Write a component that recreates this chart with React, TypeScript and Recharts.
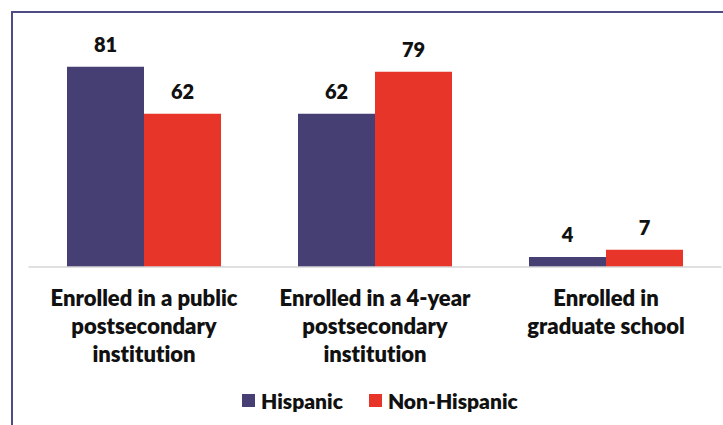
import { BarChart, Bar, XAxis, YAxis, LabelList, Legend } from 'recharts'

// Categories and values (percent)
const categories = [
  'Enrolled in a public\npostsecondary\ninstitution',
  'Enrolled in a 4-year\npostsecondary\ninstitution',
  'Enrolled in\ngraduate school',
]
const hispanic = [81, 62, 4]
const nonHispanic = [62, 79, 7]
const seriesNames = ['Hispanic', 'Non-Hispanic']
const seriesColors = ['#453F74', '#E8352A']

const data = categories.map((c, i) => ({
  category: c,
  hispanic: hispanic[i],
  nonHispanic: nonHispanic[i],
}))

const FONT = 'Lato, "Open Sans", sans-serif'
const WEIGHT = 800

function CategoryTick({ x, y, payload }: any) {
  const lines = String(payload.value).split('\n')
  return (
    <text x={x} y={y} textAnchor="middle" fontFamily={FONT} fontWeight={WEIGHT} fontSize={22} fill="#111"
      style={{ fontVariantLigatures: 'none' }}>
      {lines.map((l, i) => (
        <tspan key={i} x={x} dy={i === 0 ? 38.7 : 28}>{l}</tspan>
      ))}
    </text>
  )
}

function LegendContent() {
  return (
    <div style={{ display: 'flex', alignItems: 'center', paddingLeft: 242, fontFamily: FONT, fontWeight: WEIGHT, fontSize: 21, color: '#111', lineHeight: '21px' }}>
      {seriesNames.map((name, i) => (
        <div key={name} style={{ display: 'flex', alignItems: 'center', marginRight: 26 }}>
          <span style={{ width: 13, height: 13, background: seriesColors[i], marginRight: 6, display: 'inline-block' }} />
          <span>{name}</span>
        </div>
      ))}
    </div>
  )
}

export default function App() {
  return (
    <div style={{ position: 'absolute', left: 0, top: 0, width: 723, height: 425, background: '#fff', overflow: 'hidden' }}>
      <BarChart
        width={723}
        height={425}
        data={data}
        margin={{ top: 19.7, right: 1.5, bottom: 58, left: 28.5 }}
        barCategoryGap="16.67%"
        barGap={0}
      >
        <XAxis
          dataKey="category"
          height={100}
          tickLine={false}
          tickSize={0}
          tickMargin={0}
          axisLine={{ stroke: '#d6d6d6', strokeWidth: 1.5 }}
          interval={0}
          tick={<CategoryTick />}
        />
        <YAxis hide domain={[0, 100]} />
        <Legend
          layout="horizontal"
          verticalAlign="middle"
          align="center"
          wrapperStyle={{ top: 390, left: 0, width: 723 }}
          content={() => <LegendContent />}
        />
        <Bar dataKey="hispanic" name={seriesNames[0]} fill={seriesColors[0]} isAnimationActive={false}>
          <LabelList dataKey="hispanic" position="top" offset={15} fill="#111" fontFamily={FONT} fontWeight={WEIGHT} fontSize={20} />
        </Bar>
        <Bar dataKey="nonHispanic" name={seriesNames[1]} fill={seriesColors[1]} isAnimationActive={false}>
          <LabelList dataKey="nonHispanic" position="top" offset={15} fill="#111" fontFamily={FONT} fontWeight={WEIGHT} fontSize={20} />
        </Bar>
      </BarChart>
      {/* slide frame: top and left edges */}
      <svg width={723} height={425} style={{ position: 'absolute', left: 0, top: 0, zIndex: 2, pointerEvents: 'none' }}>
        <path d="M12 425 V12 H723" fill="none" stroke="#4f4b84" strokeWidth={2} />
      </svg>
    </div>
  )
}
